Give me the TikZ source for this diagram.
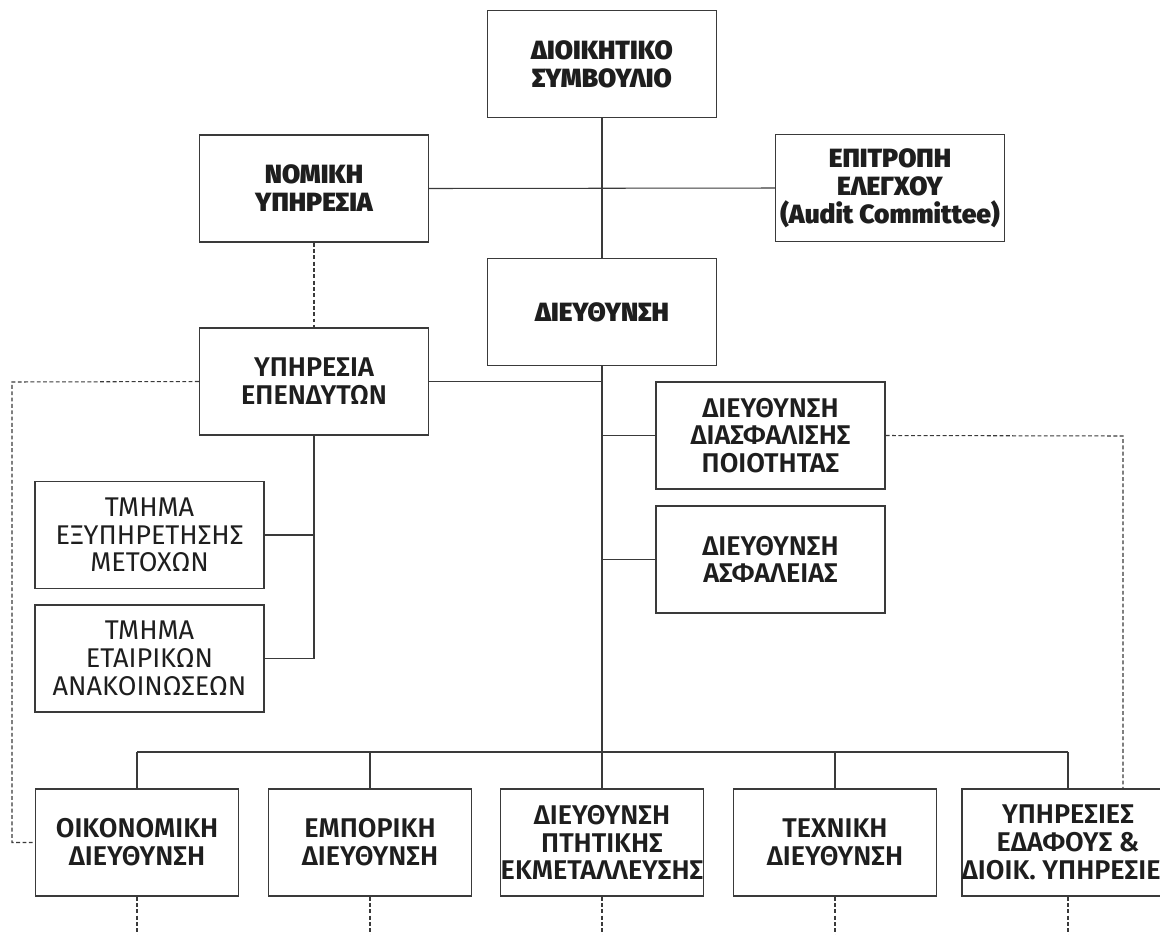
\documentclass[tikz,border=0pt]{standalone}
\usepackage{fontspec}
\setmainfont{Fira Sans}
\newfontfamily\heavyfont{Fira Sans Black}
\newfontfamily\semifont{Fira Sans SemiBold}
\usetikzlibrary{positioning}
\definecolor{linecolor}{HTML}{3A3A3A}
\definecolor{textcolor}{HTML}{1E1E1E}
\tikzset{
  unitbox/.style={draw=linecolor, line width=0.8pt, rectangle, minimum width=229\pxu, minimum height=107\pxu, inner sep=0pt, align=center, text=textcolor},
  heavybox/.style={unitbox, font=\heavyfont\fontsize{15}{16}\selectfont},
  semibox/.style={unitbox, font=\semifont\fontsize{15.4}{15.8}\selectfont},
  plainbox/.style={unitbox, font=\fontsize{15.4}{15.8}\selectfont},
  lowbox/.style={semibox, minimum width=203\pxu},
  link/.style={draw=linecolor, line width=0.6pt},
  dotlink/.style={draw=linecolor, line width=0.6pt, dash pattern=on 2.2pt off 1.4pt}
}
\newlength{\pxu}
\setlength{\pxu}{0.02cm}
\begin{document}
\begin{tikzpicture}[x=0.02cm, y=-0.02cm]
  \useasboundingbox (0,0) rectangle (1160,934);
  \clip (0,0) rectangle (1160,934);

  % Top level
  \node[heavybox] (board) at (602,64) {ΔΙΟΙΚΗΤΙΚΟ\\ΣΥΜΒΟΥΛΙΟ};
  \node[heavybox] (legal) at (314,188.5) {ΝΟΜΙΚΗ\\ΥΠΗΡΕΣΙΑ};
  \node[heavybox] (audit) at (890,188) {ΕΠΙΤΡΟΠΗ\\ΕΛΕΓΧΟΥ\\(Audit Committee)};
  \node[heavybox] (mgmt) at (602,312) {ΔΙΕΥΘΥΝΣΗ};

  % Staff units
  \node[semibox] (invest) at (314,381.5) {ΥΠΗΡΕΣΙΑ\\ΕΠΕΝΔΥΤΩΝ};
  \node[plainbox] (shares) at (149.5,535) {ΤΜΗΜΑ\\ΕΞΥΠΗΡΕΤΗΣΗΣ\\ΜΕΤΟΧΩΝ};
  \node[plainbox] (news) at (149.5,658.5) {ΤΜΗΜΑ\\ΕΤΑΙΡΙΚΩΝ\\ΑΝΑΚΟΙΝΩΣΕΩΝ};
  \node[semibox] (quality) at (770.5,435.5) {ΔΙΕΥΘΥΝΣΗ\\ΔΙΑΣΦΑΛΙΣΗΣ\\ΠΟΙΟΤΗΤΑΣ};
  \node[semibox] (safety) at (770.5,559.5) {ΔΙΕΥΘΥΝΣΗ\\ΑΣΦΑΛΕΙΑΣ};

  % Main line
  \coordinate (bus) at (602,752);
  \draw[link] (board.south) -- (mgmt.north);
  \draw[link] (legal.east) -- (audit.west);
  \draw[link] (mgmt.south) -- (bus);
  \draw[link] (invest.east) -- (invest.east -| mgmt.south);
  \draw[link] (quality.west) -- (quality.west -| mgmt.south);
  \draw[link] (safety.west) -- (safety.west -| mgmt.south);

  % Investor relations units
  \draw[link] (invest.south) |- (news.east);
  \draw[link] (shares.east) -- (shares.east -| invest.south);

  % Divisions
  \foreach \i/\x/\txt in {1/137/ΟΙΚΟΝΟΜΙΚΗ\\ΔΙΕΥΘΥΝΣΗ, 2/370/ΕΜΠΟΡΙΚΗ\\ΔΙΕΥΘΥΝΣΗ, 3/602/ΔΙΕΥΘΥΝΣΗ\\ΠΤΗΤΙΚΗΣ\\ΕΚΜΕΤΑΛΛΕΥΣΗΣ, 4/835/ΤΕΧΝΙΚΗ\\ΔΙΕΥΘΥΝΣΗ, 5/1068/ΥΠΗΡΕΣΙΕΣ\\ΕΔΑΦΟΥΣ \&\\ΔΙΟΙΚ. ΥΠΗΡΕΣΙΕΣ} {
    \node[lowbox] (div\i) at (\x,842.5) {\txt};
    \draw[link] (div\i.north) -- (div\i.north |- bus);
    \coordinate (tail\i) at (\x,940);
    \draw[dotlink] (div\i.south) -- (tail\i);
  }
  \draw[link] (div1.north |- bus) -- (div5.north |- bus);

  % Dotted reporting lines
  \coordinate (leftrail) at (12,382);
  \coordinate (rightrail) at (1123,436);
  \draw[dotlink] (legal.south) -- (invest.north);
  \draw[dotlink] (invest.west) -- (leftrail) |- (div1.west);
  \draw[dotlink] (quality.east) -- (rightrail) -- (rightrail |- div5.north);
\end{tikzpicture}
\end{document}
